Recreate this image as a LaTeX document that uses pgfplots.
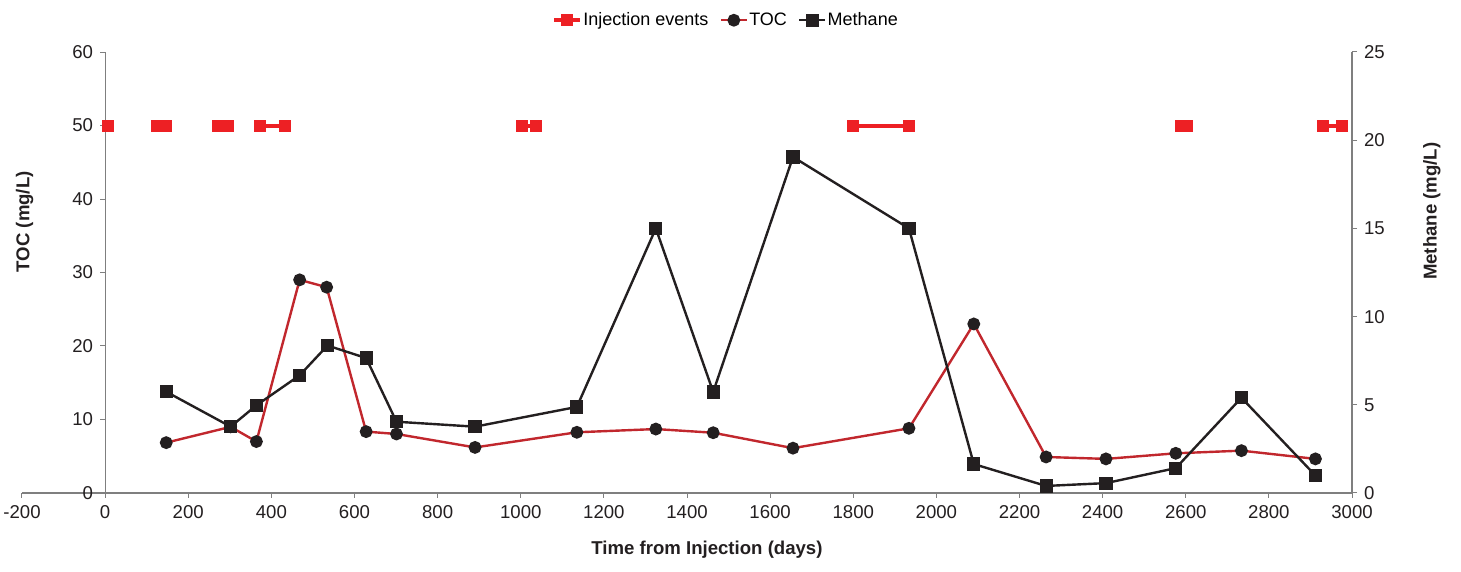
\documentclass[border=0pt]{standalone}
\usepackage{fontspec}
\setmainfont{Liberation Sans}
\usepackage{pgfplots}
\pgfplotsset{compat=1.18}
\definecolor{injred}{HTML}{ED2024}
\definecolor{tocred}{HTML}{C1272D}
\definecolor{dk}{HTML}{231F20}
\definecolor{axg}{HTML}{7F7F7F}
\begin{document}
\begin{tikzpicture}
\useasboundingbox (-11pt,-39.5pt) rectangle (719.5pt,246.5pt);
\pgfplotsset{
 base/.style={scale only axis, width=665pt, height=220.5pt, at={(0,0)}, anchor=south west,
  xmin=-200, xmax=3000,
  tick align=outside, major tick length=2.5pt,
  every tick/.style={axg, line width=0.5pt},
  axis line style={axg, line width=0.6pt},
  tick label style={font=\fontsize{9.3}{11}\selectfont, text=dk},
  /pgf/number format/assume math mode=true,
  /pgf/number format/1000 sep={},
  clip=false,
 }
}
\begin{axis}[base,
  axis x line*=bottom, axis y line*=center,
  hide obscured x ticks=false, hide obscured y ticks=false,
  ymin=0, ymax=60, ytick={0,10,...,60},
  xtick={-200,0,...,3000},
  xlabel={Time from Injection (days)},
  ylabel={TOC (mg/L)},
  xlabel style={at={(rel axis cs:0.515,0)}, anchor=center, yshift=-28.5pt, font=\bfseries\fontsize{9.3}{11}\selectfont, text=dk},
  ylabel style={at={(rel axis cs:0.002,0.615)}, anchor=center, font=\bfseries\fontsize{9.3}{11}\selectfont, text=dk},
  unbounded coords=jump,
  legend image code/.code={\draw[mark repeat=2,mark phase=2,#1] plot coordinates {(0pt,0pt) (6.5pt,0pt) (13pt,0pt)};},
  legend style={draw=none, fill=none, at={(rel axis cs:0.529,1.072)}, anchor=center,
    font=\fontsize{9}{11}\selectfont, legend columns=-1,
    nodes={inner sep=0.6pt},
    /tikz/every even column/.append style={column sep=5pt}},
  legend cell align=left,
]
\addplot[injred, line width=2pt, mark=square*, mark size=2pt, mark options={solid}]
 coordinates {(7,50) (7,nan) (126,50) (146,50) (146,nan) (272,50) (295,50) (295,nan)
  (373,50) (433,50) (433,nan) (1002,50) (1037,50) (1037,nan) (1800,50) (1934,50) (1934,nan)
  (2588,50) (2603,50) (2603,nan) (2929,50) (2975,50)};
\addlegendentry{Injection events}
\addplot[tocred, line width=1.2pt, mark=*, mark size=2.6pt, mark options={dk, fill=dk}]
 coordinates {(147,6.85) (302,9.0) (364,7.0) (468,29.0) (533,28.0) (628,8.35) (701,8.03)
  (890,6.2) (1135,8.26) (1325,8.7) (1463,8.2) (1655,6.1) (1934,8.8) (2090,23.0)
  (2264,4.9) (2408,4.64) (2576,5.4) (2734,5.76) (2912,4.64)};
\addlegendentry{TOC}
\addlegendimage{dk, line width=1.2pt, mark=square*, mark size=2.7pt, mark options={dk, fill=dk}}
\addlegendentry{Methane}
\end{axis}
\begin{axis}[base,
  axis x line=none, axis y line*=right,
  ymin=0, ymax=25, ytick={0,5,...,25},
  ylabel={Methane (mg/L)},
  ylabel style={at={(rel axis cs:1.060,0.639)}, anchor=center, font=\bfseries\fontsize{9.3}{11}\selectfont, text=dk},
]
\addplot[dk, line width=1.2pt, mark=square*, mark size=2.7pt, mark options={dk, fill=dk}]
 coordinates {(147,5.74) (302,3.76) (364,4.97) (468,6.67) (535,8.36) (628,7.65) (701,4.04)
  (890,3.76) (1135,4.88) (1325,15.0) (1463,5.73) (1655,19.05) (1934,15.0) (2090,1.64)
  (2264,0.40) (2408,0.56) (2576,1.41) (2734,5.40) (2912,0.99)};
\end{axis}
\end{tikzpicture}
\end{document}
